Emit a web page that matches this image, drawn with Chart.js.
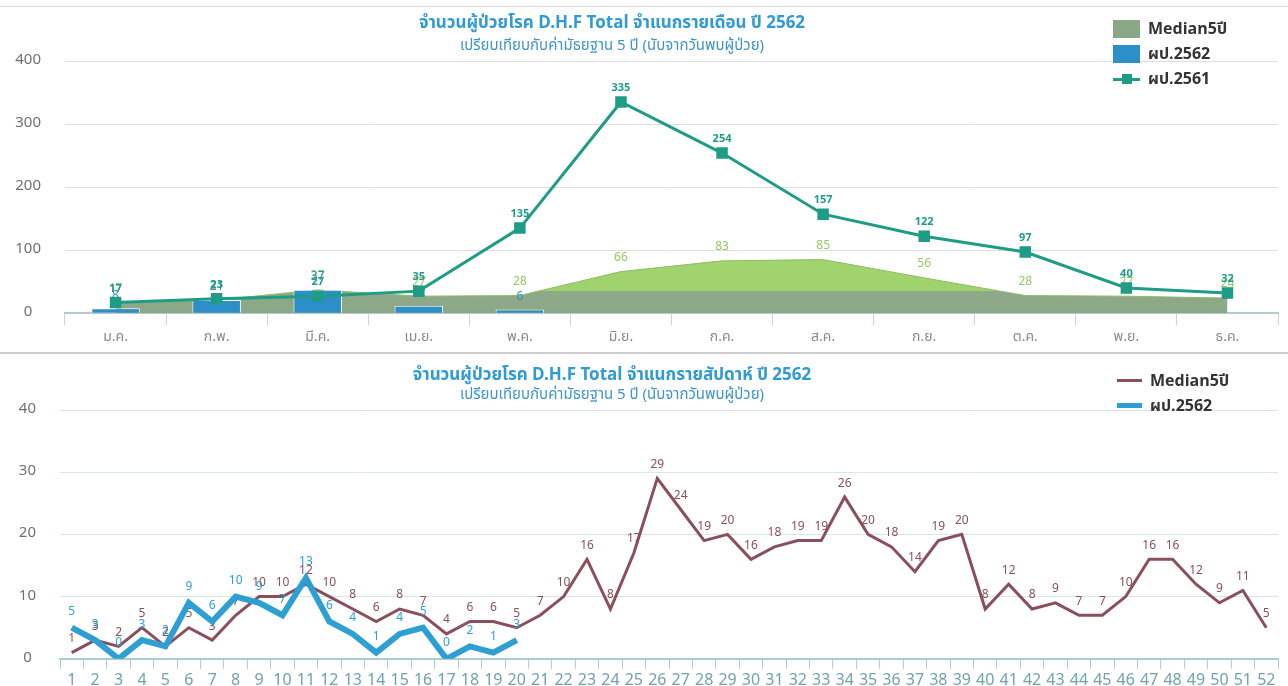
<!DOCTYPE html>
<html>
<head>
<meta charset="utf-8">
<script src="https://cdn.jsdelivr.net/npm/chart.js@4.4.1/dist/chart.umd.min.js"></script>
<style>
  html, body { margin: 0; padding: 0; background: #fff; overflow: hidden; }
  body { width: 1288px; height: 686px; position: relative; font-family: Tahoma, "Noto Sans Thai", "Noto Sans", sans-serif; }
  .box { position: absolute; left: 0; width: 1288px; }
  .title { position: absolute; left: 312px; width: 600px; text-align: center; color: #2f9ad3; white-space: nowrap; }
  .t1 { font-size: 17px; font-weight: bold; }
  .t2 { font-size: 15px; color: #3f95c6; }
  .legend { position: absolute; font-size: 16px; font-weight: bold; color: #333; }
  .legend div { height: 25px; display: flex; align-items: center; }
  .sw { display: inline-block; margin-right: 8px; position: relative; }
  .rule { position: absolute; left: 0; width: 1288px; background: #d8d8d8; }
</style>
</head>
<body>
<div class="rule" style="top:6px;height:1px"></div>
<div class="rule" style="top:352px;height:2px;background:#cfcfcf"></div>

<div class="box" style="top:0;height:352px"><canvas id="monthChart"></canvas></div>
<div class="box" style="top:356px;height:338px"><canvas id="weekChart"></canvas></div>

<div class="title t1" style="top:10px">จำนวนผู้ป่วยโรค D.H.F Total จำแนกรายเดือน ปี 2562</div>
<div class="title t2" style="top:34px">เปรียบเทียบกับค่ามัธยฐาน 5 ปี (นับจากวันพบผู้ป่วย)</div>
<div class="title t1" style="top:362px">จำนวนผู้ป่วยโรค D.H.F Total จำแนกรายสัปดาห์ ปี 2562</div>
<div class="title t2" style="top:383px">เปรียบเทียบกับค่ามัธยฐาน 5 ปี (นับจากวันพบผู้ป่วย)</div>

<div class="legend" style="left:1113px;top:16px">
  <div><span class="sw" style="width:27px;height:18px;background:#8aa886"></span>Median5ปี</div>
  <div><span class="sw" style="width:27px;height:18px;background:#2d8fc9"></span>ผป.2562</div>
  <div><span class="sw" style="width:27px;height:18px">
    <span style="position:absolute;left:0;top:8px;width:27px;height:3px;background:#1e9c86"></span>
    <span style="position:absolute;left:9px;top:4px;width:10px;height:10px;background:#1e9c86"></span>
  </span>ผป.2561</div>
</div>
<div class="legend" style="left:1117px;top:368px">
  <div><span class="sw" style="width:25px;height:3px;background:#8a4f5a"></span>Median5ปี</div>
  <div><span class="sw" style="width:25px;height:5px;background:#2e9fd2"></span>ผป.2562</div>
</div>

<script>
// ---- monthly data ----
const months = ["ม.ค.", "ก.พ.", "มี.ค.", "เม.ย.", "พ.ค.", "มิ.ย.", "ก.ค.", "ส.ค.", "ก.ย.", "ต.ค.", "พ.ย.", "ธ.ค."];
const monthMedian = [17, 21, 37, 27, 28, 66, 83, 85, 56, 28, 27, 24];
const month2562 = [8, 21, 37, 12, 6, null, null, null, null, null, null, null];
const month2561 = [17, 23, 27, 35, 135, 335, 254, 157, 122, 97, 40, 32];
const monthTicks = [0, 100, 200, 300, 400];

// ---- weekly data ----
const weeks = [];
for (let i = 1; i <= 52; i++) weeks.push(String(i));
const weekMedian = [1, 3, 2, 5, 2, 5, 3, 7, 10, 10, 12, 10, 8, 6, 8, 7, 4, 6, 6, 5,
  7, 10, 16, 8, 17, 29, 24, 19, 20, 16, 18, 19, 19, 26, 20, 18, 14, 19, 20, 8,
  12, 8, 9, 7, 7, 10, 16, 16, 12, 9, 11, 5];
const week2562 = [5, 3, 0, 3, 2, 9, 6, 10, 9, 7, 13, 6, 4, 1, 4, 5, 0, 2, 1, 3];
const weekTicks = [0, 10, 20, 30, 40];

const FONT = 'Tahoma, "Noto Sans Thai", "Noto Sans", sans-serif';

// draws the value above each point, right after its own dataset
const valueLabels = {
  id: "valueLabels",
  afterDatasetDraw(chart, args) {
    const ds = chart.data.datasets[args.index];
    if (!ds.labelColor) return;
    const ctx = chart.ctx;
    ctx.save();
    ctx.font = ds.labelFont;
    ctx.fillStyle = ds.labelColor;
    ctx.textAlign = "center";
    ctx.textBaseline = "middle";
    args.meta.data.forEach((el, i) => {
      const v = ds.data[i];
      if (v === null || v === undefined) return;
      ctx.fillText(v, el.x, el.y - ds.labelOffset);
    });
    ctx.restore();
  }
};

// green band above the grey-green base of the median area
function medianFill(c) {
  const chart = c.chart;
  const area = chart.chartArea;
  if (!area) return "#8aa886";
  const split = chart.scales.y.getPixelForValue(36);
  const f = Math.min(0.999, Math.max(0, (split - area.top) / (area.bottom - area.top)));
  const g = chart.ctx.createLinearGradient(0, area.top, 0, area.bottom);
  g.addColorStop(0, "#b2df80");
  g.addColorStop(f, "#9fd26c");
  g.addColorStop(f + 0.001, "#8fa98a");
  g.addColorStop(1, "#8aa886");
  return g;
}

new Chart(document.getElementById("monthChart"), {
  type: "bar",
  data: {
    labels: months,
    datasets: [
      {
        type: "line",
        label: "Median5ปี",
        data: monthMedian,
        order: 3,
        fill: "origin",
        backgroundColor: medianFill,
        borderColor: "#8cbd5e",
        borderWidth: 1,
        pointRadius: 0,
        tension: 0,
        labelColor: "#93c965",
        labelFont: "12px " + FONT,
        labelOffset: 13
      },
      {
        label: "ผป.2562",
        data: month2562,
        order: 2,
        backgroundColor: "#2d8fc9",
        borderColor: "#ffffff",
        borderWidth: 1,
        categoryPercentage: 0.5,
        barPercentage: 0.96,
        labelColor: "#2d8fc9",
        labelFont: "12px " + FONT,
        labelOffset: 12
      },
      {
        type: "line",
        label: "ผป.2561",
        data: month2561,
        order: 1,
        borderColor: "#1e9c86",
        backgroundColor: "#1e9c86",
        borderWidth: 3,
        pointStyle: "rect",
        pointRadius: 6,
        pointHoverRadius: 6,
        tension: 0,
        fill: false,
        labelColor: "#1e9c86",
        labelFont: "bold 11px " + FONT,
        labelOffset: 13
      }
    ]
  },
  options: {
    responsive: true,
    maintainAspectRatio: false,
    animation: false,
    layout: { padding: { top: 61, left: 0, right: 10, bottom: 0 } },
    plugins: { legend: { display: false }, tooltip: { enabled: false } },
    scales: {
      x: {
        offset: true,
        grid: { offset: true, drawOnChartArea: false, color: "#c8d4dc", tickLength: 12 },
        border: { color: "#b9c7d0", width: 2 },
        ticks: { color: "#8a8a8a", font: { size: 14, family: FONT }, padding: 5, maxRotation: 0 }
      },
      y: {
        min: 0,
        max: 400,
        afterFit: (s) => { s.width = 65; },
        afterBuildTicks: (s) => { s.ticks = monthTicks.map((v) => ({ value: v })); },
        grid: { color: "#dedede", drawTicks: false },
        border: { display: false },
        ticks: { color: "#707070", font: { size: 15, family: FONT }, padding: 24, crossAlign: "center" }
      }
    }
  },
  plugins: [valueLabels]
});

new Chart(document.getElementById("weekChart"), {
  type: "line",
  data: {
    labels: weeks,
    datasets: [
      {
        label: "Median5ปี",
        data: weekMedian,
        order: 2,
        borderColor: "#8a4f5a",
        borderWidth: 3,
        pointRadius: 0,
        tension: 0,
        fill: false,
        labelColor: "#8a4f5a",
        labelFont: "12px " + FONT,
        labelOffset: 13
      },
      {
        label: "ผป.2562",
        data: week2562,
        order: 1,
        borderColor: "#2e9fd2",
        borderWidth: 6,
        pointRadius: 0,
        tension: 0,
        fill: false,
        labelColor: "#2e9fd2",
        labelFont: "12px " + FONT,
        labelOffset: 15
      }
    ]
  },
  options: {
    responsive: true,
    maintainAspectRatio: false,
    animation: false,
    layout: { padding: { top: 54, left: 0, right: 10, bottom: 0 } },
    plugins: { legend: { display: false }, tooltip: { enabled: false } },
    scales: {
      x: {
        offset: true,
        grid: { offset: true, drawOnChartArea: false, color: "#a9cdd2", tickLength: 10 },
        border: { color: "#a9cdd2", width: 2 },
        ticks: { color: "#6fa3ad", font: { size: 16, family: FONT }, padding: 3, maxRotation: 0, autoSkip: false }
      },
      y: {
        min: 0,
        max: 40,
        afterFit: (s) => { s.width = 60; },
        afterBuildTicks: (s) => { s.ticks = weekTicks.map((v) => ({ value: v })); },
        grid: { color: "#d7e6e7", drawTicks: false },
        border: { display: false },
        ticks: { color: "#707070", font: { size: 15, family: FONT }, padding: 24, crossAlign: "center" }
      }
    }
  },
  plugins: [valueLabels]
});
</script>
</body>
</html>
